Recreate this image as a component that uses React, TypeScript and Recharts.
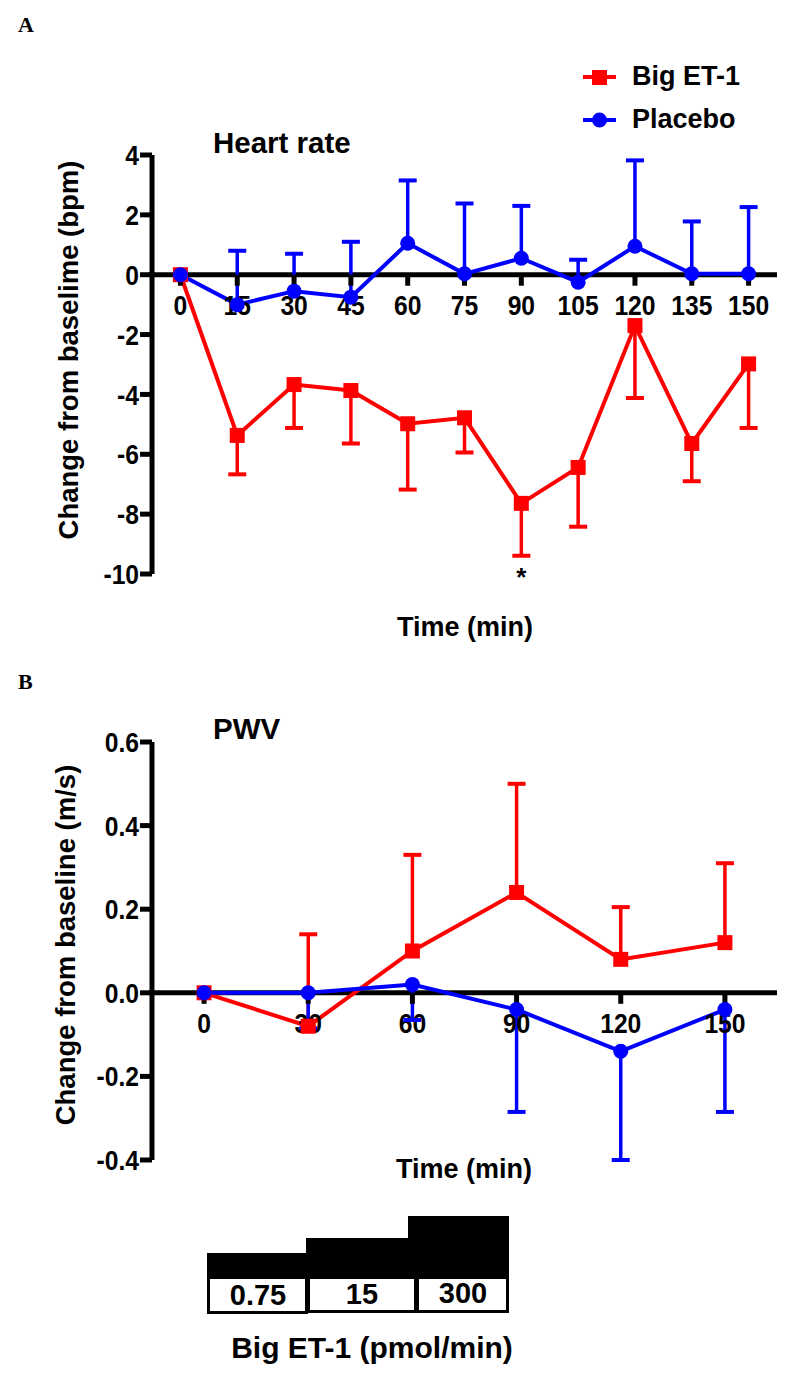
import React from 'react';
import { ComposedChart, Line, XAxis, YAxis, ReferenceLine, ReferenceDot } from 'recharts';

const FONT = '"Liberation Sans", Arial, Helvetica, sans-serif';
const SERIF = '"Liberation Serif", "Times New Roman", serif';
const RED = '#ff0000';
const BLUE = '#0000ff';
const TICK_SIZE = 28;
const TICK_SQUEEZE = 0.88;

// ---------- Panel A : Heart rate ----------
const hrTimes = [0, 15, 30, 45, 60, 75, 90, 105, 120, 135, 150];
const hrBigEt = [0, -5.37, -3.67, -3.87, -4.98, -4.78, -7.64, -6.44, -1.7, -5.64, -2.98];
const hrBigEtErrDown = [0, 1.3, 1.45, 1.77, 2.2, 1.16, 1.75, 1.98, 2.42, 1.26, 2.14];
const hrPlacebo = [0, -1.0, -0.55, -0.75, 1.05, 0.03, 0.55, -0.25, 0.95, 0.03, 0.03];
const hrPlaceboErrUp = [0, 1.8, 1.25, 1.85, 2.1, 2.35, 1.75, 0.75, 2.87, 1.75, 2.23];
const hrYTicks = [-10, -8, -6, -4, -2, 0, 2, 4];
const hrAxisX = -7.5;
const hrXDomain = [-8.3, 157.5];
const hrYDomain = [-10, 4];
const hrStarTime = 90;

// ---------- Panel B : PWV ----------
const pwvTimes = [0, 30, 60, 90, 120, 150];
const pwvBigEt = [0, -0.08, 0.1, 0.24, 0.08, 0.12];
const pwvBigEtErrUp = [0, 0.22, 0.23, 0.26, 0.125, 0.19];
const pwvPlacebo = [0, 0, 0.02, -0.04, -0.14, -0.04];
const pwvPlaceboErrDown = [0, 0.085, 0.085, 0.245, 0.26, 0.245];
const pwvYTicks = [-0.4, -0.2, 0, 0.2, 0.4, 0.6];
const pwvAxisX = -15;
const pwvXDomain = [-15.86, 165];
const pwvYDomain = [-0.4, 0.6];

const seriesNames = ['Big ET-1', 'Placebo'];
const doseLabels = ['0.75', '15', '300'];

const hrData = hrTimes.map((t, i) => ({ t, big: hrBigEt[i], placebo: hrPlacebo[i] }));
const pwvData = pwvTimes.map((t, i) => ({ t, big: pwvBigEt[i], placebo: pwvPlacebo[i] }));

const SquareDot = (p: any) =>
  p.cx == null ? <g key={p.key} /> : <rect key={p.key} x={p.cx - 7.5} y={p.cy - 7.5} width={15} height={15} fill={RED} />;
const CircleDot = (p: any) =>
  p.cx == null ? <g key={p.key} /> : <circle key={p.key} cx={p.cx} cy={p.cy} r={7.5} fill={BLUE} />;

const tickText = (s: string, x: number, y: number, anchor: 'end' | 'middle', dy?: string) => (
  <text
    transform={`translate(${x},${y}) scale(${TICK_SQUEEZE},1)`}
    x={0}
    y={0}
    dy={dy}
    textAnchor={anchor}
    fontSize={TICK_SIZE}
    fontWeight="bold"
    fontFamily={FONT}
    fill="#000"
  >
    {s}
  </text>
);

const errorBars = (prefix: string, times: number[], vals: number[], errs: number[], sign: number, color: string) =>
  times.flatMap((t, i) =>
    errs[i] > 0
      ? [
          <ReferenceLine
            key={prefix + 's' + i}
            segment={[{ x: t, y: vals[i] }, { x: t, y: vals[i] + sign * errs[i] }]}
            stroke={color}
            strokeWidth={3.5}
            ifOverflow="visible"
          />,
          <ReferenceDot
            key={prefix + 'c' + i}
            x={t}
            y={vals[i] + sign * errs[i]}
            r={1}
            ifOverflow="visible"
            shape={(p: any) => (
              <line x1={p.cx - 9} x2={p.cx + 9} y1={p.cy} y2={p.cy} stroke={color} strokeWidth={4} />
            )}
          />,
        ]
      : []
  );

const xAxisTicks = (prefix: string, ticks: number[]) =>
  ticks.map((t) => (
    <ReferenceDot
      key={prefix + 'xt' + t}
      x={t}
      y={0}
      r={1}
      ifOverflow="visible"
      shape={(p: any) => (
        <g>
          <line x1={p.cx} x2={p.cx} y1={p.cy} y2={p.cy + 11} stroke="#000" strokeWidth={5} />
          {tickText(String(t), p.cx, p.cy + 40, 'middle')}
        </g>
      )}
    />
  ));

const yAxisParts = (prefix: string, xAxisPos: number, yDomain: number[], ticks: number[], fmt: (v: number) => string) => [
  <ReferenceLine
    key={prefix + 'yl'}
    segment={[{ x: xAxisPos, y: yDomain[0] }, { x: xAxisPos, y: yDomain[1] }]}
    stroke="#000"
    strokeWidth={5}
    ifOverflow="visible"
  />,
  ...ticks.map((v) => (
    <ReferenceDot
      key={prefix + 'yt' + v}
      x={xAxisPos}
      y={v}
      r={1}
      ifOverflow="visible"
      shape={(p: any) => (
        <g>
          <line x1={p.cx - 12} x2={p.cx} y1={p.cy} y2={p.cy} stroke="#000" strokeWidth={5} />
          {tickText(fmt(v), p.cx - 13, p.cy, 'end', '0.36em')}
        </g>
      )}
    />
  )),
];

const txt = (s: string, left: number, top: number, size: number, extra: React.CSSProperties = {}) => (
  <div
    style={{
      position: 'absolute',
      left,
      top,
      fontFamily: FONT,
      fontWeight: 'bold',
      fontSize: size,
      lineHeight: 1,
      whiteSpace: 'nowrap',
      color: '#000',
      ...extra,
    }}
  >
    {s}
  </div>
);

const centered = (s: string, cx: number, cy: number, size: number, extra: React.CSSProperties = {}) =>
  txt(s, cx, cy, size, { transform: 'translate(-50%, -50%)', ...extra });

const vlabel = (s: string, cx: number, cy: number, size: number) =>
  txt(s, cx, cy, size, { transform: 'translate(-50%, -50%) rotate(-90deg)' });

export default function App() {
  return (
    <div style={{ position: 'absolute', left: 0, top: 0, width: 800, height: 1380, background: '#fff', overflow: 'hidden' }}>
      {/* Panel letters */}
      {txt('A', 18, 14, 22, { fontFamily: SERIF })}
      {txt('B', 18, 671, 22, { fontFamily: SERIF })}

      {/* Panel A */}
      <div style={{ position: 'absolute', left: 0, top: 0 }}>
        <ComposedChart width={800} height={650} data={hrData} margin={{ top: 155, right: 23, bottom: 76, left: 149 }}>
          <XAxis type="number" dataKey="t" domain={hrXDomain} hide allowDataOverflow />
          <YAxis type="number" domain={hrYDomain} hide allowDataOverflow />
          <ReferenceLine y={0} stroke="#000" strokeWidth={5} />
          {yAxisParts('a', hrAxisX, hrYDomain, hrYTicks, (v) => String(v))}
          {xAxisTicks('a', hrTimes)}
          {errorBars('ab', hrTimes, hrBigEt, hrBigEtErrDown, -1, RED)}
          {errorBars('ap', hrTimes, hrPlacebo, hrPlaceboErrUp, 1, BLUE)}
          <ReferenceDot
            x={hrStarTime}
            y={-10}
            r={1}
            ifOverflow="visible"
            shape={(p: any) => (
              <text x={p.cx} y={p.cy + 12} textAnchor="middle" fontSize={26} fontWeight="bold" fontFamily={FONT} fill="#000">
                *
              </text>
            )}
          />
          <Line dataKey="big" name={seriesNames[0]} stroke={RED} strokeWidth={4} dot={SquareDot} isAnimationActive={false} />
          <Line dataKey="placebo" name={seriesNames[1]} stroke={BLUE} strokeWidth={4} dot={CircleDot} isAnimationActive={false} />
        </ComposedChart>
      </div>

      {/* Legend */}
      <svg style={{ position: 'absolute', left: 580, top: 60 }} width={40} height={80}>
        <line x1={3} x2={36} y1={17} y2={17} stroke={RED} strokeWidth={4} />
        <rect x={12} y={10} width={15} height={15} fill={RED} />
        <line x1={3} x2={36} y1={60} y2={60} stroke={BLUE} strokeWidth={4} />
        <circle cx={19.5} cy={60} r={7.5} fill={BLUE} />
      </svg>
      {txt(seriesNames[0], 632, 63, 27)}
      {txt(seriesNames[1], 632, 106, 27)}

      {txt('Heart rate', 213, 128, 29.5)}
      {vlabel('Change from baselime (bpm)', 69, 350, 27.5)}
      {centered('Time (min)', 465, 627, 27)}

      {/* Panel B */}
      <div style={{ position: 'absolute', left: 0, top: 650 }}>
        <ComposedChart width={800} height={560} data={pwvData} margin={{ top: 92, right: 23, bottom: 50, left: 149 }}>
          <XAxis type="number" dataKey="t" domain={pwvXDomain} hide allowDataOverflow />
          <YAxis type="number" domain={pwvYDomain} hide allowDataOverflow />
          <ReferenceLine y={0} stroke="#000" strokeWidth={5} />
          {yAxisParts('b', pwvAxisX, pwvYDomain, pwvYTicks, (v) => v.toFixed(1))}
          {xAxisTicks('b', pwvTimes)}
          {errorBars('bb', pwvTimes, pwvBigEt, pwvBigEtErrUp, 1, RED)}
          {errorBars('bp', pwvTimes, pwvPlacebo, pwvPlaceboErrDown, -1, BLUE)}
          <Line dataKey="big" name={seriesNames[0]} stroke={RED} strokeWidth={4} dot={SquareDot} isAnimationActive={false} />
          <Line dataKey="placebo" name={seriesNames[1]} stroke={BLUE} strokeWidth={4} dot={CircleDot} isAnimationActive={false} />
        </ComposedChart>
      </div>

      {txt('PWV', 213, 714, 29.5)}
      {vlabel('Change from baseline (m/s)', 66, 945, 27.5)}
      {centered('Time (min)', 464, 1169, 27)}

      {/* Dose schematic */}
      <div style={{ position: 'absolute', left: 207, top: 1253, width: 100, height: 25, background: '#000' }} />
      <div style={{ position: 'absolute', left: 306, top: 1238, width: 103, height: 40, background: '#000' }} />
      <div style={{ position: 'absolute', left: 408, top: 1216, width: 101, height: 62, background: '#000' }} />
      <div style={{ position: 'absolute', left: 207, top: 1276, width: 101, height: 38, boxSizing: 'border-box', border: '3px solid #000', background: '#fff' }} />
      <div style={{ position: 'absolute', left: 307, top: 1276, width: 110, height: 37, boxSizing: 'border-box', border: '3px solid #000', background: '#fff' }} />
      <div style={{ position: 'absolute', left: 416, top: 1276, width: 93, height: 37, boxSizing: 'border-box', border: '3px solid #000', background: '#fff' }} />
      {centered(doseLabels[0], 258, 1295, 29)}
      {centered(doseLabels[1], 362, 1294, 29)}
      {centered(doseLabels[2], 463, 1293, 29)}
      {centered('Big ET-1 (pmol/min)', 372, 1348, 30)}
    </div>
  );
}
